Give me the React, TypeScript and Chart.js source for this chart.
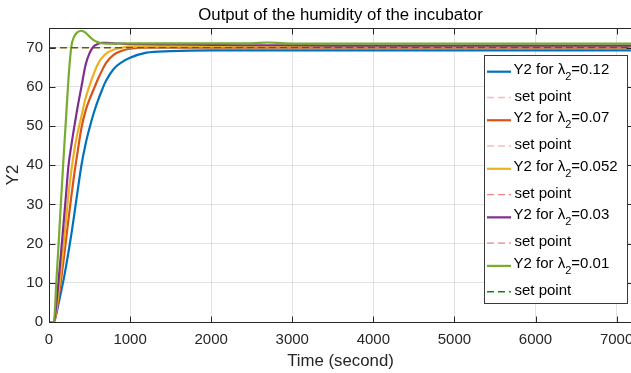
import React, { useEffect, useRef } from 'react';
import { Chart, registerables } from 'chart.js';

Chart.register(...registerables);

// Simulation time stamps (seconds)
const TIME = [0, 60, 90, 120, 150, 180, 210, 240, 275, 310, 350, 400, 450, 500, 550, 600, 650, 700, 800, 900, 1000, 1200, 1500, 2000, 2500, 2700, 2900, 3500, 4000, 5000, 6000, 7000, 7190];

// Humidity response Y2 for each lambda_2 value
const Y_L012 = [0, 0, 2, 5, 7.8, 10.8, 14.2, 17.8, 22.3, 27.2, 33, 40, 45.3, 49.5, 53.2, 56.3, 59, 61.4, 64.6, 66.3, 67.4, 68.7, 69.1, 69.3, 69.3, 69.3, 69.3, 69.3, 69.3, 69.3, 69.3, 69.3, 69.3];
const Y_L007 = [0, 0, 2.5, 6.5, 11, 15.8, 21, 26.2, 32, 37.5, 43, 49.5, 53.8, 56.8, 59.3, 61.8, 64, 66, 68.2, 69.2, 69.7, 70, 70, 70, 70, 70, 70, 70, 70, 70, 70, 70, 70];
const Y_L0052 = [0, 0, 3, 8, 13.5, 19.5, 26, 32.5, 38.5, 43.5, 48, 52.5, 57, 60.3, 63.2, 65.7, 67.3, 68.4, 69.5, 70, 70.2, 70.3, 70.3, 70.3, 70.3, 70.3, 70.3, 70.3, 70.3, 70.3, 70.3, 70.3, 70.3];
const Y_L003 = [0, 0, 4.5, 11, 18, 25.2, 32.5, 39.8, 45, 49.6, 54.5, 60, 65.5, 68.6, 70.3, 70.9, 71.2, 71.2, 71.1, 71, 70.9, 70.9, 70.8, 70.7, 70.6, 70.6, 70.6, 70.5, 70.5, 70.5, 70.5, 70.5, 70.5];
const Y_L001 = [0, 0, 10, 20.5, 31.5, 42, 52, 62, 70.2, 72.8, 73.9, 74.3, 73.8, 72.8, 71.9, 71.4, 71.1, 71, 71, 71.05, 71.1, 71.1, 71.1, 71.1, 71.1, 71.3, 71.1, 71, 71, 71, 71, 71, 71];

const SET_POINT = 70;

const LAMBDA_LABELS = ['0.12', '0.07', '0.052', '0.03', '0.01'];
const SERIES = [Y_L012, Y_L007, Y_L0052, Y_L003, Y_L001];
const LINE_COLORS = ['#0072BD', '#D95319', '#EDB120', '#7E2F8E', '#77AC30'];
const SET_COLORS = ['#FFB8B8', '#FFB8B8', '#F28585', '#F48080', '#0A8A0A'];

const X_TICKS = [0, 1000, 2000, 3000, 4000, 5000, 6000, 7000];
const Y_TICKS = [0, 10, 20, 30, 40, 50, 60, 70];
const X_MAX = 7190;
const Y_MAX = 75;

const FONT = "'Liberation Sans', Arial, Helvetica, sans-serif";
const AXIS_COLOR = '#262626';
const GRID_COLOR = 'rgba(38,38,38,0.13)';
const DASH = [7, 4];

// MATLAB-like box, inward ticks and axis titles
const framePlugin = {
  id: 'matlabFrame',
  afterDatasetsDraw(chart: any) {
    const { ctx, chartArea: a, scales } = chart;
    const xs = scales.x;
    const ys = scales.y;
    const L = Math.round(a.left) + 0.5;
    const R = Math.round(a.right) + 0.5;
    const T = Math.round(a.top) + 0.5;
    const B = Math.round(a.bottom) + 0.5;
    const tick = 6;
    ctx.save();
    ctx.strokeStyle = AXIS_COLOR;
    ctx.lineWidth = 1;
    ctx.beginPath();
    ctx.rect(L, T, R - L, B - T);
    xs.ticks.forEach((t: any) => {
      const px = Math.round(xs.getPixelForValue(t.value)) + 0.5;
      ctx.moveTo(px, B);
      ctx.lineTo(px, B - tick);
      ctx.moveTo(px, T);
      ctx.lineTo(px, T + tick);
    });
    ys.ticks.forEach((t: any) => {
      const py = Math.round(ys.getPixelForValue(t.value)) + 0.5;
      ctx.moveTo(L, py);
      ctx.lineTo(L + tick, py);
      ctx.moveTo(R, py);
      ctx.lineTo(R - tick, py);
    });
    ctx.stroke();

    const cx = (a.left + a.right) / 2;
    const cy = (a.top + a.bottom) / 2;
    ctx.fillStyle = '#000';
    ctx.textAlign = 'center';
    ctx.textBaseline = 'middle';
    ctx.font = `16.8px ${FONT}`;
    ctx.fillText('Output of the humidity of the incubator', cx, 15);
    ctx.fillStyle = AXIS_COLOR;
    ctx.fillText('Time (second)', cx, 361);
    ctx.save();
    ctx.translate(13, cy);
    ctx.rotate(-Math.PI / 2);
    ctx.fillText('Y2', 0, 0);
    ctx.restore();
    ctx.restore();
  },
};

// Boxed legend with subscripted lambda labels
const legendPlugin = {
  id: 'boxLegend',
  afterDraw(chart: any) {
    const ctx = chart.ctx;
    const left = 484.5;
    const top = 55.5;
    const right = 627.5;
    const bottom = 303.5;
    ctx.save();
    ctx.fillStyle = '#fff';
    ctx.fillRect(left, top, right - left, bottom - top);
    ctx.strokeStyle = '#3a3a3a';
    ctx.lineWidth = 1;
    ctx.strokeRect(left, top, right - left, bottom - top);

    const x0 = 487;
    const x1 = 511;
    const tx = 513.5;
    ctx.textAlign = 'left';
    ctx.textBaseline = 'middle';
    LAMBDA_LABELS.forEach((lab, i) => {
      const y = 71.7 + i * 48.55;
      ctx.setLineDash([]);
      ctx.strokeStyle = LINE_COLORS[i];
      ctx.lineWidth = 2.2;
      ctx.beginPath();
      ctx.moveTo(x0, y);
      ctx.lineTo(x1, y);
      ctx.stroke();
      ctx.fillStyle = '#000';
      ctx.font = `15px ${FONT}`;
      const a = 'Y2 for \u03bb';
      ctx.fillText(a, tx, y - 2);
      const w1 = ctx.measureText(a).width;
      ctx.font = `11px ${FONT}`;
      ctx.fillText('2', tx + w1, y + 5);
      const w2 = ctx.measureText('2').width;
      ctx.font = `15px ${FONT}`;
      ctx.fillText('=' + lab, tx + w1 + w2, y - 2);

      const ys = y + 25.8;
      ctx.setLineDash(DASH);
      ctx.strokeStyle = SET_COLORS[i];
      ctx.lineWidth = 1.4;
      ctx.beginPath();
      ctx.moveTo(x0, ys);
      ctx.lineTo(x1, ys);
      ctx.stroke();
      ctx.setLineDash([]);
      ctx.fillText('set point', tx + 1, ys - 1);
    });
    ctx.restore();
  },
};

export default function App() {
  const canvasRef = useRef<HTMLCanvasElement | null>(null);

  useEffect(() => {
    const canvas = canvasRef.current;
    if (!canvas) return;
    const datasets: any[] = [];
    SERIES.forEach((vals, i) => {
      datasets.push({
        label: `Y2 for \u03bb2=${LAMBDA_LABELS[i]}`,
        data: TIME.map((t, k) => ({ x: t, y: vals[k] })),
        borderColor: LINE_COLORS[i],
        borderWidth: 2.2,
        pointRadius: 0,
        fill: false,
        cubicInterpolationMode: 'monotone',
      });
      datasets.push({
        label: 'set point',
        data: [TIME[0], TIME[TIME.length - 1]].map((t) => ({ x: t, y: SET_POINT })),
        borderColor: SET_COLORS[i],
        borderWidth: 1.4,
        borderDash: DASH,
        pointRadius: 0,
        fill: false,
      });
    });
    // later entries are painted above earlier ones
    datasets.forEach((d, i) => {
      d.order = datasets.length - i;
    });

    const tickFont = { family: FONT, size: 15 };
    const chart = new Chart(canvas, {
      type: 'line',
      data: { datasets },
      options: {
        responsive: false,
        animation: false,
        devicePixelRatio: 1,
        layout: { padding: { top: 28, right: 8, left: 0, bottom: 0 } },
        plugins: {
          legend: { display: false },
          tooltip: { enabled: false },
          title: { display: false },
        },
        scales: {
          x: {
            type: 'linear',
            min: 0,
            max: X_MAX,
            border: { display: false },
            grid: { color: GRID_COLOR, drawTicks: false, lineWidth: 1 },
            afterBuildTicks: (s: any) => {
              s.ticks = X_TICKS.map((v) => ({ value: v }));
            },
            ticks: {
              padding: 9,
              color: AXIS_COLOR,
              font: tickFont,
              maxRotation: 0,
              minRotation: 0,
              autoSkip: false,
              callback: (v: any) => String(v),
            },
            afterFit: (s: any) => {
              s.height = 51;
              s.paddingLeft = 0;
              s.paddingRight = 0;
            },
          },
          y: {
            type: 'linear',
            min: 0,
            max: Y_MAX,
            border: { display: false },
            grid: { color: GRID_COLOR, drawTicks: false, lineWidth: 1 },
            afterBuildTicks: (s: any) => {
              s.ticks = Y_TICKS.map((v) => ({ value: v }));
            },
            ticks: {
              padding: 6,
              color: AXIS_COLOR,
              font: tickFont,
              autoSkip: false,
              callback: (v: any) => String(v),
            },
            afterFit: (s: any) => {
              s.width = 49;
              s.paddingTop = 0;
              s.paddingBottom = 0;
            },
          },
        },
      } as any,
      plugins: [framePlugin, legendPlugin],
    });
    return () => chart.destroy();
  }, []);

  return (
    <div style={{ position: 'absolute', left: 0, top: 0, width: 631, height: 373, overflow: 'hidden', background: '#fff' }}>
      <canvas ref={canvasRef} width={640} height={373} style={{ display: 'block' }} />
    </div>
  );
}
